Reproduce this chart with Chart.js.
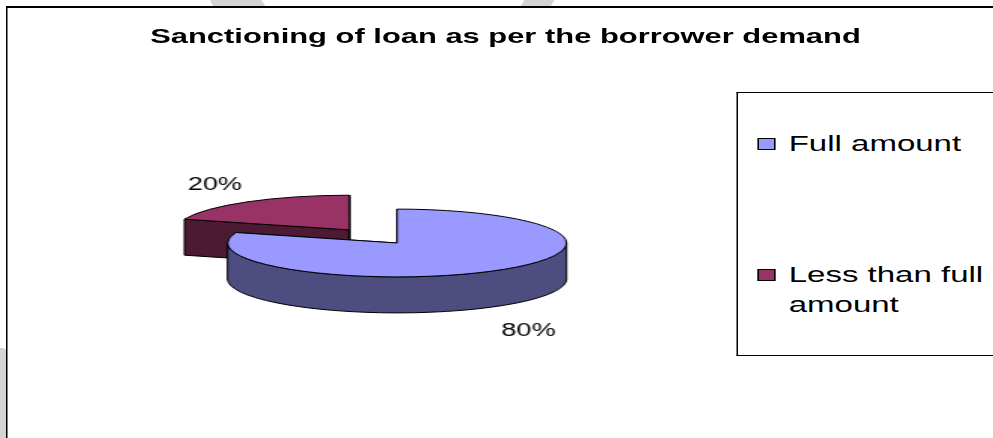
<!DOCTYPE html>
<html>
<head>
<meta charset="utf-8">
<script src="https://cdn.jsdelivr.net/npm/chart.js@4.4.1/dist/chart.umd.min.js"></script>
<style>
  html, body { margin: 0; padding: 0; background: #fff; overflow: hidden; }
  .wm { position: absolute; background: #d4d4d4; }
  /* the original picture is stretched 1.5x sideways, so the whole stage is too */
  #stage { position: absolute; left: 0; top: 0; width: 662px; height: 438px; overflow: hidden;
           transform: scaleX(1.5); transform-origin: 0 0;
           font-family: "Liberation Sans", Arial, sans-serif; color: #000; }
  #frame { position: absolute; left: 3.5px; top: 6px; width: 700px; height: 500px; background: #fff;
           border-top: 2px solid #000; border-left: 1.4px solid #000; }
  #chart { position: absolute; left: 0; top: 0; }
  #title { position: absolute; left: 0; top: 24px; width: 674px; text-align: center;
           font-weight: bold; font-size: 20.6px; line-height: 24px; white-space: nowrap; }
  #legend { position: absolute; left: 490.5px; top: 92px; width: 400px; height: 262px; background: #fff;
            border-top: 1.5px solid #000; border-bottom: 1.5px solid #000; border-left: 1.2px solid #000; }
  .item { position: absolute; left: 13px; font-size: 22px; line-height: 30px; }
  .box { position: absolute; left: 0; top: 8.5px; width: 10px; height: 10px; border: 1px solid #000; }
  .txt { position: absolute; left: 21.3px; width: 140px; }
</style>
</head>
<body>
<div class="wm" style="left:212px; top:0; width:52px; height:8px; transform:skewX(30deg);"></div>
<div class="wm" style="left:522px; top:0; width:30px; height:8px; transform:skewX(-30deg);"></div>
<div class="wm" style="left:0; top:348px; width:8px; height:95px; border-radius:0 6px 0 0;"></div>
<div id="stage">
  <div id="frame"></div>
  <canvas id="chart" width="662" height="438"></canvas>
  <div id="title"></div>
  <div id="legend"></div>
</div>
<script>
const chartTitle = 'Sanctioning of loan as per the borrower demand';
const labels = ['Full amount', 'Less than full amount'];
const values = [80, 20];
const topColors = ['#9999FF', '#993366'];
const sideColors = ['#4D4D80', '#4D1A33'];
const explode = [0, 216];

const S = 0.3;     // vertical squash of the pie
const DEPTH = 36;  // height of the pie sides

// legend
const legendTops = [36.2, 167.2];
const legend = document.getElementById('legend');
labels.forEach((l, i) => {
  const it = document.createElement('div');
  it.className = 'item';
  it.style.top = legendTops[i] + 'px';
  it.innerHTML = '<div class="box" style="background:' + topColors[i] + '"></div><div class="txt">' + l + '</div>';
  legend.appendChild(it);
});
document.getElementById('title').textContent = chartTitle;

// geometry of one slice, same as the arc element draws it
function sliceGeom(arc, i) {
  const p = arc.getProps(['x', 'y', 'startAngle', 'endAngle', 'outerRadius']);
  const off = (arc.options.offset || 0) / 4;
  const mid = (p.startAngle + p.endAngle) / 2;
  const fix = 1 - Math.sin(Math.min(Math.PI, p.endAngle - p.startAngle));
  return {
    i, mid, cx: p.x, cy: p.y,
    x: p.x + Math.cos(mid) * off,
    y: p.y + Math.sin(mid) * off,
    r: p.outerRadius + off * fix,
    a0: p.startAngle, a1: p.endAngle
  };
}

function squash(ctx, cx, cy) {
  ctx.translate(cx, cy);
  ctx.scale(1, S);
  ctx.translate(-cx, -cy);
}

const pie3d = {
  id: 'pie3d',
  beforeDatasetsDraw(chart) {
    const ctx = chart.ctx;
    const geoms = chart.getDatasetMeta(0).data.map(sliceGeom);
    const order = geoms.slice().sort((a, b) => a.y - b.y);
    const d = DEPTH / S;
    ctx.save();
    ctx.lineWidth = 1;
    ctx.strokeStyle = '#000';
    ctx.lineJoin = 'round';
    // cut faces
    order.forEach(g => {
      [g.a0, g.a1].forEach(a => {
        const ex = g.x + g.r * Math.cos(a), ey = g.y + g.r * Math.sin(a);
        ctx.save();
        squash(ctx, g.cx, g.cy);
        ctx.beginPath();
        ctx.moveTo(g.x, g.y);
        ctx.lineTo(ex, ey);
        ctx.lineTo(ex, ey + d);
        ctx.lineTo(g.x, g.y + d);
        ctx.closePath();
        ctx.restore();
        ctx.fillStyle = sideColors[g.i];
        ctx.fill();
        ctx.stroke();
      });
    });
    // outer walls, front half only
    order.forEach(g => {
      for (let k = -1; k <= 2; k++) {
        const lo = Math.max(g.a0, 2 * Math.PI * k);
        const hi = Math.min(g.a1, 2 * Math.PI * k + Math.PI);
        if (hi <= lo) continue;
        ctx.save();
        squash(ctx, g.cx, g.cy);
        ctx.beginPath();
        ctx.arc(g.x, g.y, g.r, lo, hi);
        ctx.lineTo(g.x + g.r * Math.cos(hi), g.y + g.r * Math.sin(hi) + d);
        ctx.arc(g.x, g.y + d, g.r, hi, lo, true);
        ctx.closePath();
        ctx.restore();
        ctx.fillStyle = sideColors[g.i];
        ctx.fill();
        ctx.stroke();
      }
    });
    ctx.restore();
  },
  beforeDatasetDraw(chart) {
    const a = chart.getDatasetMeta(0).data[0];
    chart.ctx.save();
    squash(chart.ctx, a.x, a.y);
  },
  afterDatasetDraw(chart) {
    chart.ctx.restore();
  },
  afterDatasetsDraw(chart) {
    const ctx = chart.ctx;
    const geoms = chart.getDatasetMeta(0).data.map(sliceGeom);
    ctx.save();
    ctx.lineWidth = 1;
    ctx.strokeStyle = '#000';
    ctx.lineJoin = 'round';
    geoms.forEach(g => {
      ctx.save();
      squash(ctx, g.cx, g.cy);
      ctx.beginPath();
      ctx.moveTo(g.x, g.y);
      ctx.arc(g.x, g.y, g.r, g.a0, g.a1);
      ctx.closePath();
      ctx.restore();
      ctx.stroke();
    });
    // percent labels
    ctx.fillStyle = '#000';
    ctx.font = '18px "Liberation Sans", Arial, sans-serif';
    ctx.textAlign = 'center';
    ctx.textBaseline = 'middle';
    geoms.forEach(g => {
      const s = Math.sin(g.mid);
      const lx = g.x + Math.cos(g.mid) * g.r * 1.32;
      const ly = g.cy + (g.y - g.cy) * S + s * g.r * S * 1.3 + (s > 0 ? DEPTH + 16 : -8);
      ctx.fillText(values[g.i] + '%', lx, ly);
    });
    ctx.restore();
  }
};

new Chart(document.getElementById('chart'), {
  type: 'pie',
  data: {
    labels: labels,
    datasets: [{
      data: values,
      backgroundColor: topColors,
      borderWidth: 0,
      offset: explode,
      hoverOffset: 0,
      clip: false
    }]
  },
  options: {
    responsive: false,
    animation: false,
    events: [],
    radius: 113,
    layout: { padding: { left: 0, right: 132.6, top: 48, bottom: 0 } },
    plugins: {
      legend: { display: false },
      tooltip: { enabled: false },
      title: { display: false }
    }
  },
  plugins: [pie3d]
});
</script>
</body>
</html>
